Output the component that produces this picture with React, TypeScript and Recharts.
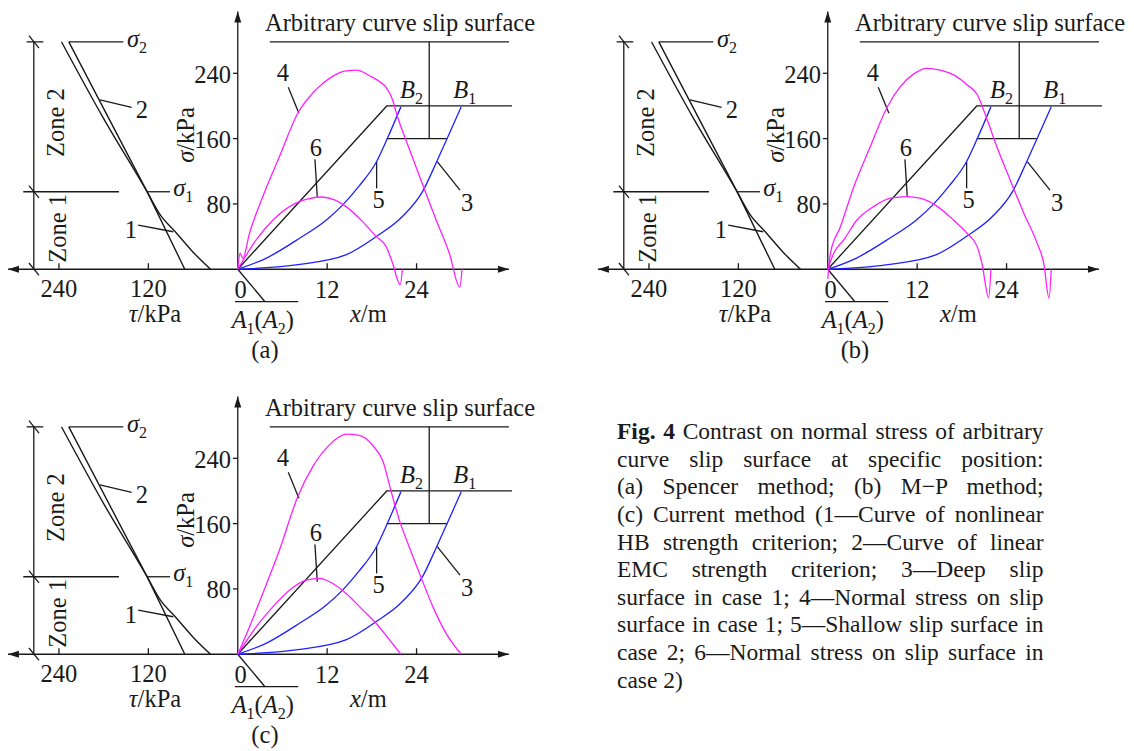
import React from 'react'
import { ComposedChart, Line, XAxis, YAxis, ReferenceLine, ReferenceDot } from 'recharts'

type P = { x: number; s: number }
type T = { t: number; s: number }

const pts = (a: number[][]): P[] => a.map(([x, s]) => ({ x, s }))
const tpts = (a: number[][]): T[] => a.map(([t, s]) => ({ t, s }))

// tick labels
const sigmaTicks = [80, 160, 240]
const xTicks = [12, 24]
const tauTicks = [120, 240]

// zone boundaries (kPa)
const sigma1 = 94.9
const sigma2 = 278.5

// strength envelopes, tau vs sigma (left half)
const hbCurve = tpts([[236.6, 278.5], [181, 186], [121.6, 94.7], [103.8, 66.2], [83.6, 45.7], [59, 20], [36.6, 0]])
const emcLine = tpts([[226.8, 278.5], [121.6, 94.7], [71.1, 0]])

// slope geometry and slip surfaces (right half)
const groundSurface = pts([[0, 0], [20, 200], [36.8, 200]])
const deepSlip = pts([[0, 0], [7.8, 5.3], [14.5, 17.5], [18.6, 40], [22.1, 64.5], [24.8, 95], [26.7, 131.7], [28.0, 158], [30.0, 199]])
const shallowSlip = pts([[0, 0], [3.8, 13.4], [8.3, 38], [11.9, 60.4], [14.1, 78.8], [16.3, 102], [18.64, 132], [20.07, 160], [21.9, 199]])

// normal stress on slip surface, case 1 (curve 4) and case 2 (curve 6)
const stress1A = pts([[0, 0], [0.32, 19.6], [0.67, 13.5], [1.57, 44], [3.36, 89], [5.6, 138], [8.05, 191], [10.5, 220], [12.5, 235], [14.5, 243], [16, 244], [17.7, 237], [19, 230], [19.9, 223], [20.8, 207], [21.3, 191], [23, 148], [24.8, 104], [26.6, 61], [28.4, 19.6], [29.8, -22], [30.1, 0]])
const stress2A = pts([[0, 0], [2.47, 35.9], [4.7, 60], [7.8, 81], [9.3, 86], [11.2, 88.5], [13, 85], [14.5, 77], [16.8, 58], [18.6, 40], [19.9, 28], [20.8, 7], [21.8, -19], [22.1, 0]])

const stress1B = pts([[0, -12], [0.36, 19.6], [1.7, 52], [3.5, 101], [5.7, 150], [8.0, 199], [9.76, 224], [11.5, 239], [13.3, 246], [15.1, 244], [16.9, 238], [18.7, 226], [20.05, 214], [21.4, 183], [22.7, 150], [24.5, 109], [26.3, 69], [28.1, 32], [29.0, 7], [29.7, -35.5], [30.0, 0]])
const stress2B = pts([[0, 0], [0.8, 19.6], [2.15, 36], [3.9, 60], [6.2, 77], [8.4, 87], [10.6, 89], [12.4, 87], [14.7, 77], [16.9, 60], [18.7, 44], [20.05, 28], [20.7, 7], [21.6, -35], [21.9, 0]])

const stress1C = pts([[0, 0], [1.57, 33.5], [3.36, 74.5], [5.6, 127.6], [8.05, 193], [10.07, 229.8], [12.3, 256.4], [14.55, 269.5], [16.3, 268], [18.1, 256], [19.5, 236], [20.6, 199], [21.7, 164], [23.0, 131.7], [24.4, 99], [26.2, 58], [28.0, 25], [30.0, 0]])
const stress2C = pts([[0, 0], [2.47, 33.5], [4.7, 58], [6.94, 78.5], [9.2, 90.8], [11.0, 92.9], [12.75, 86.7], [14.55, 74.5], [16.8, 54], [18.6, 37.6], [20.4, 17.2], [21.9, 0]])

const captionLines = [
  'Contrast on normal stress of arbitrary',
  'curve slip surface at specific position:',
  '(a) Spencer method; (b) M\u2212P method;',
  '(c) Current method (1\u2014Curve of nonlinear',
  'HB strength criterion; 2\u2014Curve of linear',
  'EMC strength criterion; 3\u2014Deep slip',
  'surface in case 1; 4\u2014Normal stress on slip',
  'surface in case 1; 5\u2014Shallow slip surface in',
  'case 2; 6\u2014Normal stress on slip surface in',
  'case 2)',
]

const INK = '#1a1a1a'
const BLUE = '#2020ff'
const MAG = '#ff20ff'
const serif = '"Liberation Serif", "Times New Roman", serif'
const FS = 24.5

const seg = (key: string, a: number[], b: number[], axis = 'm') => (
  <ReferenceLine key={key} xAxisId={axis} yAxisId="s" segment={[{ x: a[0], y: a[1] }, { x: b[0], y: b[1] }]}
    stroke={INK} strokeWidth={1.3} ifOverflow="visible" />
)

const txt = (key: string, x: number, y: number, body: React.ReactNode, opt: { axis?: string; anchor?: string; rotate?: boolean } = {}) => (
  <ReferenceDot key={key} xAxisId={opt.axis ?? 'm'} yAxisId="s" x={x} y={y} r={0} ifOverflow="visible" isFront
    shape={(p: any) => (
      <text x={p.cx} y={p.cy} textAnchor={(opt.anchor ?? 'middle') as any} fontFamily={serif} fontSize={FS} fill={INK}
        transform={opt.rotate ? `rotate(-90 ${p.cx} ${p.cy})` : undefined}>{body}</text>
    )} />
)

const arrow = (key: string, x: number, y: number, dir: 'l' | 'r' | 'u') => (
  <ReferenceDot key={key} xAxisId="m" yAxisId="s" x={x} y={y} r={0} ifOverflow="visible" isFront
    shape={(p: any) => {
      const { cx, cy } = p
      const d = dir === 'r' ? `${cx},${cy} ${cx - 11},${cy - 3.5} ${cx - 11},${cy + 3.5}`
        : dir === 'l' ? `${cx},${cy} ${cx + 11},${cy - 3.5} ${cx + 11},${cy + 3.5}`
        : `${cx},${cy} ${cx - 3.5},${cy + 11} ${cx + 3.5},${cy + 11}`
      return <polygon points={d} fill={INK} />
    }} />
)

const sub = (base: string, s: string, italic = true) => [
  <tspan key="b" fontStyle={italic ? 'italic' : 'normal'}>{base}</tspan>,
  <tspan key="s" dy={6} fontSize={16}>{s}</tspan>,
]

function Panel({ left, top, tag, stress1, stress2 }: { left: number; top: number; tag: string; stress1: P[]; stress2: P[] }) {
  const lineProps = { dot: false, activeDot: false, isAnimationActive: false, yAxisId: 's', dataKey: 's' } as const
  return (
    <div style={{ position: 'absolute', left, top }}>
      <ComposedChart width={560} height={370} margin={{ top: 3.9, right: 46.6, bottom: 2.8, left: 3.1 }}>
        <XAxis xAxisId="m" dataKey="x" type="number" domain={[-31.5, 37]} allowDataOverflow hide />
        <XAxis xAxisId="tau" dataKey="t" type="number" domain={[-370, 315]} reversed allowDataOverflow hide />
        <YAxis yAxisId="s" dataKey="s" type="number" domain={[-120, 325]} allowDataOverflow hide />

        {/* axes */}
        {seg('ax-h', [-30.85, 0], [36.4, 0])}
        {seg('ax-v', [0, 0], [0, 315.7])}
        {arrow('ar-l', -30.85, 0, 'l')}
        {arrow('ar-r', 36.4, 0, 'r')}
        {arrow('ar-u', 0, 315.7, 'u')}
        {sigmaTicks.map(v => seg(`st${v}`, [-0.65, v], [0, v]))}
        {xTicks.map(v => seg(`xt${v}`, [v, 0], [v, 7.4]))}
        {tauTicks.map(v => seg(`tt${v}`, [v, 0], [v, 7.4], 'tau'))}
        {sigmaTicks.map(v => txt(`sl${v}`, -0.9, v - 11.6, String(v), { anchor: 'end' }))}
        {txt('xl0', 0.4, -35.3, '0')}
        {xTicks.map(v => txt(`xl${v}`, v, -35.3, String(v)))}
        {tauTicks.map(v => txt(`tl${v}`, v, -34, String(v), { axis: 'tau' }))}
        {txt('sig-lab', -5.88, 164.4, [<tspan key="a" fontStyle="italic">σ</tspan>, <tspan key="b">/kPa</tspan>], { rotate: true })}
        {txt('tau-lab', 111.1, -64.7, [<tspan key="a" fontStyle="italic">τ</tspan>, <tspan key="b">/kPa</tspan>], { axis: 'tau' })}
        {txt('x-lab', 15.06, -64.3, [<tspan key="a" fontStyle="italic">x</tspan>, <tspan key="b">/m</tspan>], { anchor: 'start' })}

        {/* zones */}
        {seg('zv', [273.8, 0], [273.8, sigma2], 'tau')}
        {seg('zh2', [283.4, sigma2], [261.1, sigma2], 'tau')}
        {seg('zh1', [287.9, sigma1], [159.5, sigma1], 'tau')}
        {[0, sigma1, sigma2].map(s => seg(`zs${s}`, [280.3, s + 7.6], [266.8, s - 7.6], 'tau'))}
        {txt('zone2', 232.6, 179.7, 'Zone 2', { axis: 'tau', rotate: true })}
        {txt('zone1', 230.6, 50.1, 'Zone 1', { axis: 'tau', rotate: true })}
        {seg('s2l', [226.8, sigma2], [153.7, sigma2], 'tau')}
        {seg('s1l', [121.6, sigma1], [91, sigma1], 'tau')}
        {txt('s2t', 148.7, 272.2, sub('σ', '2'), { axis: 'tau', anchor: 'start' })}
        {txt('s1t', 86.6, 89.7, sub('σ', '1'), { axis: 'tau', anchor: 'start' })}
        {seg('l2', [185, 207.3], [142.4, 198.3], 'tau')}
        {seg('l1', [133.6, 54.1], [86.6, 45.9], 'tau')}
        {txt('n2', 128.6, 185.2, '2', { axis: 'tau' })}
        {txt('n1', 143.4, 38.2, '1', { axis: 'tau' })}

        {/* slip surface annotation */}
        {seg('top', [4.3, sigma2], [36.4, sigma2])}
        {seg('dim', [25.7, sigma2], [25.7, 160])}
        {seg('brk', [20, 160], [28.1, 160])}
        {txt('title', 3.65, 291.2, 'Arbitrary curve slip surface', { anchor: 'start' })}
        {txt('b2', 21.77, 209.7, sub('B', '2'), { anchor: 'start' })}
        {txt('b1', 28.93, 209.7, sub('B', '1'), { anchor: 'start' })}
        {seg('l4', [6.78, 222.8], [8.21, 191])}
        {seg('l6', [10.36, 134.6], [10.67, 88.8])}
        {seg('l5', [18.64, 131.7], [18.64, 99.1])}
        {seg('l3', [26.78, 131.7], [29.83, 97])}
        {txt('n4', 6.07, 230.5, '4')}
        {txt('n6', 10.5, 138.7, '6')}
        {txt('n5', 18.9, 75, '5')}
        {txt('n3', 30.8, 71.3, '3')}
        {seg('au', [-0.38, -39.8], [8.12, -39.8])}
        {seg('ad', [0, 0], [3.65, -39.8])}
        {txt('A', -0.82, -72, [...sub('A', '1'), <tspan key="p" dy={-6}>(</tspan>, <tspan key="a2" fontStyle="italic">A</tspan>, <tspan key="s2" dy={6} fontSize={16}>2</tspan>, <tspan key="q" dy={-6}>)</tspan>], { anchor: 'start' })}
        {txt('tag', 3.65, -109, tag)}

        {/* series */}
        <Line {...lineProps} xAxisId="tau" data={emcLine} type="linear" stroke={INK} strokeWidth={1.4} />
        <Line {...lineProps} xAxisId="tau" data={hbCurve} type="monotone" stroke={INK} strokeWidth={1.4} />
        <Line {...lineProps} xAxisId="m" data={groundSurface} type="linear" stroke={INK} strokeWidth={1.3} />
        <Line {...lineProps} xAxisId="m" data={deepSlip} type="monotone" stroke={BLUE} strokeWidth={1.3} />
        <Line {...lineProps} xAxisId="m" data={shallowSlip} type="monotone" stroke={BLUE} strokeWidth={1.3} />
        <Line {...lineProps} xAxisId="m" data={stress1} type="monotone" stroke={MAG} strokeWidth={1.3} />
        <Line {...lineProps} xAxisId="m" data={stress2} type="monotone" stroke={MAG} strokeWidth={1.3} />
      </ComposedChart>
    </div>
  )
}

export default function App() {
  return (
    <div style={{ position: 'absolute', left: 0, top: 0, width: 1134, height: 751, overflow: 'hidden', background: '#fff' }}>
      <Panel left={0} top={0} tag="(a)" stress1={stress1A} stress2={stress2A} />
      <Panel left={590} top={0} tag="(b)" stress1={stress1B} stress2={stress2B} />
      <Panel left={0} top={385} tag="(c)" stress1={stress1C} stress2={stress2C} />
      <div style={{ position: 'absolute', left: 617, top: 418.3, width: 426.5, fontFamily: serif, fontSize: 23.5, lineHeight: '27.6px', color: INK }}>
        {captionLines.map((l, i) => (
          <div key={i} style={{ textAlign: 'justify', textAlignLast: i === captionLines.length - 1 ? 'left' : 'justify' }}>
            {i === 0 && <b>Fig. 4 </b>}{l}
          </div>
        ))}
      </div>
    </div>
  )
}
